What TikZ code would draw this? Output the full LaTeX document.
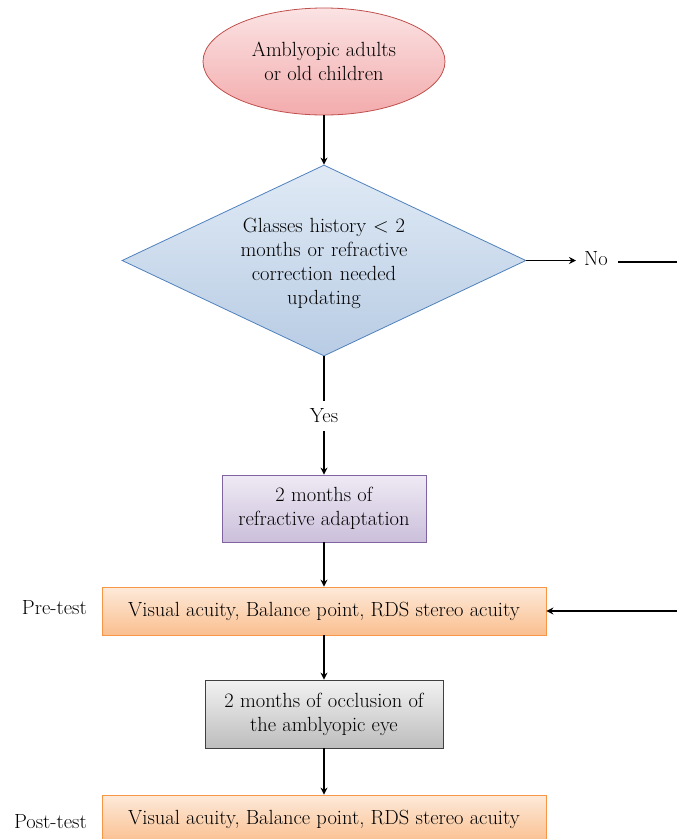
\documentclass[tikz,border=0pt]{standalone}
\usetikzlibrary{shapes.geometric,arrows.meta}
\definecolor{ellB}{HTML}{C0504D}\definecolor{ellT}{HTML}{FBE3E4}\definecolor{ellL}{HTML}{F3ABAC}
\definecolor{diaB}{HTML}{4F81BD}\definecolor{diaT}{HTML}{E0EAF5}\definecolor{diaL}{HTML}{B8CCE4}
\definecolor{purB}{HTML}{8064A2}\definecolor{purT}{HTML}{EFEAF4}\definecolor{purL}{HTML}{CBBFDB}
\definecolor{orB}{HTML}{F79646}\definecolor{orT}{HTML}{FDEADA}\definecolor{orL}{HTML}{FABF8F}
\definecolor{grB}{HTML}{404040}\definecolor{grT}{HTML}{F2F2F2}\definecolor{grL}{HTML}{BDBDBD}
\tikzset{
  every node/.style={font=\fontsize{20.5}{24}\selectfont},
  arr/.style={line width=1.8pt,-{Stealth[length=7pt,width=7pt]}},
  ln/.style={line width=1.8pt},
  startnode/.style={ellipse,draw=ellB,line width=0.8pt,top color=ellT,bottom color=ellL,minimum width=242pt,minimum height=107pt,inner sep=0pt,align=center},
  dia/.style={diamond,draw=diaB,line width=0.8pt,top color=diaT,bottom color=diaL,minimum width=404pt,minimum height=191pt,inner sep=0pt},
  purp/.style={rectangle,draw=purB,line width=0.8pt,top color=purT,bottom color=purL,minimum width=204pt,minimum height=67pt,align=center,inner sep=0pt},
  orng/.style={rectangle,draw=orB,line width=0.8pt,top color=orT,bottom color=orL,minimum width=444pt,minimum height=48pt,align=center,inner sep=0pt},
  gry/.style={rectangle,draw=grB,line width=0.8pt,top color=grT,bottom color=grL,minimum width=238pt,minimum height=68pt,align=center,inner sep=0pt},
  lbl/.style={inner sep=0pt}
}
\begin{document}
\begin{tikzpicture}[x=1pt,y=-1pt]
\useasboundingbox (0,0) rectangle (677,839);
\clip (0,0) rectangle (677,839);
\node[startnode] (start) at (324,61.5) {Amblyopic adults\\or old children};
\node[dia] (dec) at (324,260.5) {};
\node[align=center,text width=220pt] (dectext) at (324,263) {Glasses history < 2\\months or refractive\\correction needed\\updating};
\node[lbl] (yes) at (324,416) {Yes};
\node[lbl] (no) at (596,259) {No};
\coordinate (rtop) at (677,262);
\coordinate (rbot) at (677,611);
\node[purp] (adapt) at (324,508.5) {2 months of\\refractive adaptation};
\node[orng] (pre) at (324,611) {Visual acuity, Balance point, RDS stereo acuity};
\node[lbl,anchor=east] (prelbl) at (87,608) {Pre-test};
\node[gry] (occl) at (324,714) {2 months of occlusion of\\the amblyopic eye};
\node[orng] (post) at (324,819) {Visual acuity, Balance point, RDS stereo acuity};
\node[lbl,anchor=east] (postlbl) at (87,822) {Post-test};

\draw[arr] (start.south) -- (dec.north);
\draw[ln] (dec.south) -- ([yshift=8pt]yes.north);
\draw[arr] ([yshift=-8pt]yes.south) -- (adapt.north);
\draw[arr] (dec.east) -- ([xshift=-8pt]dec.east -| no.west);
\draw[ln] ([xshift=10pt]no.east |- rtop) -- (rtop);
\draw[arr] (rbot) -- (pre.east);
\draw[arr] (adapt.south) -- (pre.north);
\draw[arr] (pre.south) -- (occl.north);
\draw[arr] (occl.south) -- (post.north);
\end{tikzpicture}
\end{document}
